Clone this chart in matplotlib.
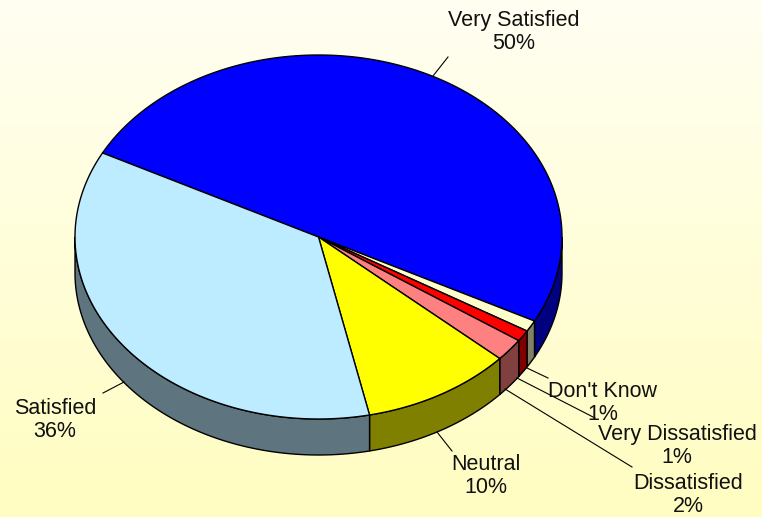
import numpy as np
import matplotlib.pyplot as plt
from matplotlib.patches import Polygon
from matplotlib.colors import LinearSegmentedColormap

plt.rcParams['font.family'] = ['Liberation Sans', 'DejaVu Sans']

# slices in clockwise drawing order
labels = ['Very Satisfied', "Don't Know", 'Very Dissatisfied', 'Dissatisfied', 'Neutral', 'Satisfied']
values = [50, 1, 1, 2, 10, 36]
top_colors = ['#0000FF', '#FFFFCC', '#FF0000', '#FF8080', '#FFFF00', '#BDEBFF']
side_colors = ['#000080', '#808066', '#800000', '#804040', '#808000', '#5E7580']

start_angle = 152.5  # degrees, first slice starts here and runs clockwise

# ellipse geometry (pixel space, y down)
cx, cy, rx, ry, depth = 318.5, 237, 243.5, 182, 36

fig = plt.figure(figsize=(7.62, 5.17), dpi=100)
ax = fig.add_axes([0, 0, 1, 1])
ax.set_xlim(0, 762)
ax.set_ylim(517, 0)
ax.axis('off')

# background gradient
bg = LinearSegmentedColormap.from_list('bg', ['#FFFFF2', '#FFFDC0'])
grad = np.linspace(0, 1, 256).reshape(-1, 1)
ax.imshow(grad, cmap=bg, extent=[0, 762, 517, 0], aspect='auto', zorder=0)


def pt(theta_deg, dz=0):
    t = np.radians(theta_deg)
    return cx + rx * np.cos(t), cy - ry * np.sin(t) + dz


fracs = np.array(values) / sum(values)
ends = start_angle - np.cumsum(fracs) * 360
starts = np.concatenate([[start_angle], ends[:-1]])

# side walls (front half only)
for a0, a1, sc in zip(starts, ends, side_colors):
    hi, lo = a0, a1
    segs = []
    for k in range(-2, 2):
        s_hi = min(hi, 360 * k)
        s_lo = max(lo, 360 * k - 180)
        if s_hi > s_lo:
            segs.append((s_lo, s_hi))
    for s_lo, s_hi in segs:
        th = np.linspace(s_lo, s_hi, 100)
        xs, ys = pt(th)
        xb, yb = pt(th[::-1], depth)
        poly = np.column_stack([np.concatenate([xs, xb]), np.concatenate([ys, yb])])
        ax.add_patch(Polygon(poly, closed=True, fc=sc, ec='black', lw=1, zorder=2))

# top faces
for a0, a1, tc in zip(starts, ends, top_colors):
    th = np.linspace(a0, a1, 200)
    xs, ys = pt(th)
    poly = np.column_stack([np.concatenate([[cx], xs]), np.concatenate([[cy], ys])])
    ax.add_patch(Polygon(poly, closed=True, fc=tc, ec='black', lw=1, zorder=3))

# labels with leader lines
label_pos = [(514, 32), (603, 403), (677, 446), (688, 495), (486, 476), (55, 420)]
leaders = [((433, 76), (448, 57)), ((527, 368), (548, 378)), ((517, 378), (595, 418)),
           ((505, 389), (632, 467)), ((437, 432), (452, 451)), ((103, 393), (124, 382))]
for lab, v, (tx, ty), (p0, p1) in zip(labels, values, label_pos, leaders):
    ax.plot([p0[0], p1[0]], [p0[1], p1[1]], color='black', lw=0.8, zorder=4)
    ax.text(tx, ty, f'{lab}\n{v}%', ha='center', va='center', fontsize=15.5,
            linespacing=1.1, color='#111111', zorder=5)

fig.savefig('out.png', dpi=100)
